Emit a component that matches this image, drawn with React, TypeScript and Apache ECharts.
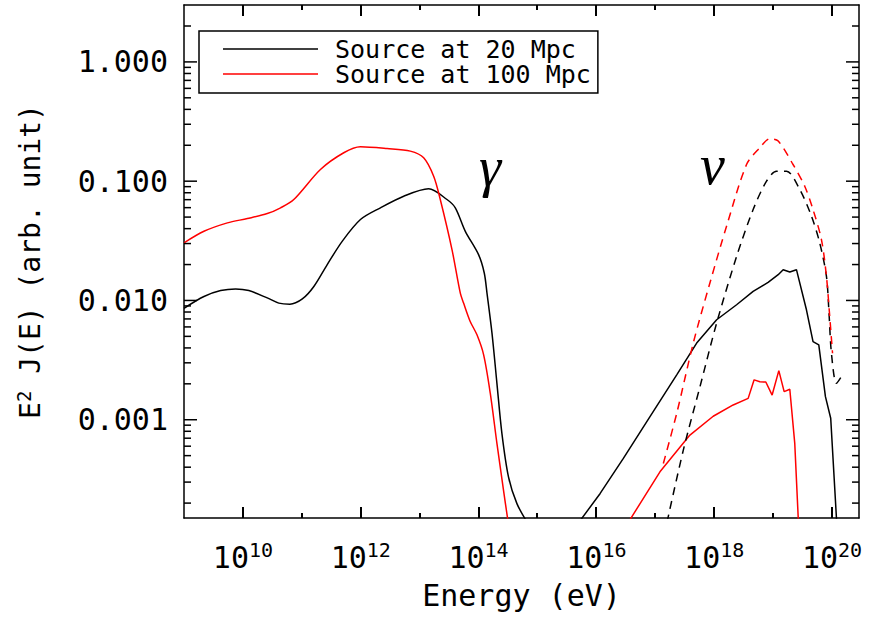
import { useEffect, useRef } from 'react';
import * as echarts from 'echarts';

// ---- data (energy in eV, E^2 J(E) in arbitrary units) ----
const gamma20E = [1.0e9, 2.18e9, 4.19e9, 7.52e9, 1.26e10, 2.59e10, 4.07e10, 6.27e10, 1.02e11, 1.6e11, 2.7e11, 4.84e11, 9.89e11, 2.16e12, 5.36e12, 1.42e13, 2.91e13, 4.03e13, 5.96e13, 1.0e14, 1.25e14, 1.39e14, 1.69e14, 2.05e14, 2.49e14, 3.22e14, 4.48e14, 6.68e14];
const gamma20V = [0.0086, 0.0108, 0.0121, 0.0125, 0.0121, 0.0105, 0.0095, 0.0093, 0.0103, 0.0131, 0.02, 0.0313, 0.0477, 0.0598, 0.0748, 0.0863, 0.0702, 0.0598, 0.038, 0.0242, 0.017, 0.01153, 0.00532, 0.00202, 0.000769, 0.000332, 0.000198, 0.000138];

const gamma100E = [1.0e9, 2.18e9, 5.45e9, 1.19e10, 2.59e10, 4.36e10, 7.31e10, 2.07e11, 5.15e11, 9.89e11, 2.8e12, 6.95e12, 1.17e13, 1.73e13, 2.24e13, 3.54e13, 4.9e13, 5.57e13, 7.18e13, 9.4e13, 1.22e14, 1.58e14, 2.05e14, 2.65e14, 3.18e14];
const gamma100V = [0.0304, 0.038, 0.0447, 0.0486, 0.0535, 0.0598, 0.0702, 0.1254, 0.1732, 0.1946, 0.188, 0.1787, 0.157, 0.11, 0.0702, 0.0267, 0.0115, 0.0095, 0.0067, 0.00515, 0.0035, 0.00167, 0.000634, 0.000257, 0.000138];

const nu20E = [5.05e15, 1.16e16, 2.87e16, 8.13e16, 2.31e17, 5.04e17, 1.1e18, 2.4e18, 4.58e18, 8.22e18, 1.22e19, 1.48e19, 1.92e19, 2.49e19, 3.68e19, 4.76e19, 5.96e19, 7.73e19, 9.5e19, 1.2e20];
const nu20V = [0.000138, 0.000241, 0.000474, 0.00106, 0.00238, 0.00439, 0.00689, 0.0092, 0.01191, 0.01417, 0.01644, 0.01811, 0.01733, 0.01811, 0.00835, 0.00452, 0.00424, 0.00156, 0.00103, 0.000138];

const nu100E = [3.49e16, 1.2e17, 3.87e17, 9.62e17, 2.1e18, 3.77e18, 4.76e18, 5.96e18, 7.52e18, 9.62e18, 1.25e19, 1.54e19, 1.92e19, 2.33e19, 2.69e19];
const nu100V = [0.000138, 0.000366, 0.000744, 0.00107, 0.00133, 0.00151, 0.00216, 0.00208, 0.00207, 0.00161, 0.00258, 0.00172, 0.0018, 0.000634, 0.000138];

const nuDash20E = [1.58e17, 2.99e17, 5.73e17, 1.1e18, 2.4e18, 4.58e18, 7.73e18, 1.14e19, 1.69e19, 2.84e19, 4.48e19, 6.19e19, 8.04e19, 8.89e19, 9.77e19, 1.19e20, 1.44e20];
const nuDash20V = [0.000138, 0.000556, 0.00189, 0.00646, 0.0234, 0.0578, 0.1, 0.1213, 0.1213, 0.0851, 0.0508, 0.0303, 0.0159, 0.00783, 0.00361, 0.00202, 0.0023];

const nuDash100E = [1.37e17, 2.31e17, 4.41e17, 8.45e17, 1.62e18, 3.54e18, 5.96e18, 8.79e18, 1.22e19, 2.18e19, 3.44e19, 4.76e19, 6.61e19, 8.04e19, 9.14e19, 1.02e20];
const nuDash100V = [0.00043, 0.00113, 0.00439, 0.014, 0.0419, 0.138, 0.191, 0.227, 0.217, 0.138, 0.0908, 0.0578, 0.0324, 0.0159, 0.00734, 0.00361];

// ---- axes ----
const xMin = 1e9;
const xMax = 2.87e20;
const yMin = 1.5e-4;
const yMax = 3;
const xMajorTicks = [1e10, 1e12, 1e14, 1e16, 1e18, 1e20];
const xMinorTicks = [1e11, 1e13, 1e15, 1e17, 1e19];
const yMajorTicks = [0.001, 0.01, 0.1, 1];
const yMinorTicks = [
  0.0002, 0.0003, 0.0004, 0.0005, 0.0006, 0.0007, 0.0008, 0.0009,
  0.002, 0.003, 0.004, 0.005, 0.006, 0.007, 0.008, 0.009,
  0.02, 0.03, 0.04, 0.05, 0.06, 0.07, 0.08, 0.09,
  0.2, 0.3, 0.4, 0.5, 0.6, 0.7, 0.8, 0.9,
  2,
];
const legendNames = ['Source at 20 Mpc', 'Source at 100 Mpc'];

const pair = (xs: number[], ys: number[]) => xs.map((x, i) => [x, ys[i]]);

const MONO = 'DejaVu Sans Mono';
const TICK_W = 1.5;
const X_TICK_W = 2;
const X_MAJOR_LEN = 11;
const X_MINOR_LEN = 5;

// Frame ticks on all four sides of the plot.
function tickSeries(name: string, values: number[], len: number, withXTicks: boolean) {
  return {
    type: 'custom',
    name,
    silent: true,
    clip: false,
    z: 10,
    xAxisIndex: 0,
    yAxisIndex: 0,
    data: values.map((v) => [1e10, v]),
    renderItem: (params: any, api: any) => {
      const cs = params.coordSys;
      const p = api.coord([api.value(0), api.value(1)]);
      const py = p[1];
      const xr = cs.x + cs.width;
      const yb = cs.y + cs.height;
      const fill = { fill: '#000' };
      const children: any[] = [
        { type: 'rect', shape: { x: cs.x, y: py - TICK_W / 2, width: len, height: TICK_W }, style: fill },
        { type: 'rect', shape: { x: xr - len, y: py - TICK_W / 2, width: len, height: TICK_W }, style: fill },
      ];
      if (withXTicks && params.dataIndex === 0) {
        const a = Math.log10(xMin);
        const b = Math.log10(xMax);
        const xPix = (v: number) => {
          const q = api.coord([v, 1]);
          const qx = q ? Number(q[0]) : NaN;
          if (isFinite(qx) && qx >= cs.x - 1 && qx <= xr + 1) return qx;
          return cs.x + (cs.width * (Math.log10(v) - a)) / (b - a);
        };
        const addX = (v: number, l: number) => {
          const x = Math.round(xPix(v)) - X_TICK_W / 2;
          children.push({ type: 'rect', shape: { x, y: yb - l, width: X_TICK_W, height: l }, style: fill });
          children.push({ type: 'rect', shape: { x, y: cs.y, width: X_TICK_W, height: l }, style: fill });
        };
        xMajorTicks.forEach((v) => addX(v, X_MAJOR_LEN));
        xMinorTicks.forEach((v) => addX(v, X_MINOR_LEN));
      }
      return { type: 'group', children };
    },
  };
}

function buildOption() {
  const isPow10 = (v: number) => {
    const l = Math.log10(v);
    return Math.abs(l - Math.round(l)) < 1e-6;
  };
  const frame = () => ({ show: true, onZero: false, lineStyle: { color: '#000', width: 1.5 } });
  const lineBase = { type: 'line', showSymbol: false, symbol: 'none', clip: true, z: 3 };
  const black = '#000000';
  const red = '#ff0000';
  const plainAxis = (min: number, max: number, position: string) => ({
    type: 'log',
    min,
    max,
    position,
    axisLine: frame(),
    axisTick: { show: false },
    axisLabel: { show: false },
    splitLine: { show: false },
  });
  return {
    animation: false,
    backgroundColor: '#ffffff',
    grid: { left: 184, right: 10, top: 5, bottom: 102, containLabel: false },
    legend: {
      data: legendNames,
      orient: 'vertical',
      left: 199,
      top: 31,
      padding: [5.5, 7, 6.5, 24],
      itemGap: 0,
      icon: 'rect',
      itemWidth: 95,
      itemHeight: 1.5,
      borderColor: '#000',
      borderWidth: 1.5,
      borderRadius: 0,
      backgroundColor: '#fff',
      selectedMode: false,
      textStyle: { fontFamily: MONO, fontSize: 25, lineHeight: 25, color: '#000', padding: [0, 0, 0, 12] },
    },
    xAxis: [
      {
        type: 'log',
        min: xMin,
        max: xMax,
        position: 'bottom',
        axisLine: frame(),
        axisTick: { show: false },
        splitLine: { show: false },
        axisLabel: {
          margin: 22,
          customValues: xMajorTicks,
          formatter: (v: number) => {
            if (!isPow10(v)) return '';
            const e = Math.round(Math.log10(v));
            return `{b|10}{s|${e}}`;
          },
          rich: {
            b: { fontFamily: MONO, fontSize: 30, lineHeight: 34, color: '#000' },
            s: { fontFamily: MONO, fontSize: 20, lineHeight: 20, verticalAlign: 'top', color: '#000' },
          },
        },
        name: 'Energy (eV)',
        nameLocation: 'middle',
        nameGap: 62,
        nameTextStyle: { fontFamily: MONO, fontSize: 30, color: '#000' },
      },
      plainAxis(xMin, xMax, 'top'),
    ],
    yAxis: [
      {
        type: 'log',
        min: yMin,
        max: yMax,
        position: 'left',
        axisLine: frame(),
        axisTick: { show: false },
        splitLine: { show: false },
        axisLabel: {
          margin: 16,
          customValues: yMajorTicks,
          fontFamily: MONO,
          fontSize: 30,
          color: '#000',
          formatter: (v: number) => (isPow10(v) ? v.toFixed(3) : ''),
        },
        name: '{n|E}{s|2}{n| J(E) (arb. unit)}',
        nameLocation: 'middle',
        nameGap: 138,
        nameRotate: 90,
        nameTextStyle: {
          color: '#000',
          rich: {
            n: { fontFamily: MONO, fontSize: 28, lineHeight: 32, color: '#000' },
            s: { fontFamily: MONO, fontSize: 19, lineHeight: 19, verticalAlign: 'top', color: '#000' },
          },
        },
      },
      plainAxis(yMin, yMax, 'right'),
    ],
    graphic: [
      {
        type: 'text',
        left: 479,
        top: 139,
        silent: true,
        style: { text: 'γ', font: 'italic 56px "Liberation Serif"', fill: '#000' },
      },
      {
        type: 'text',
        left: 700,
        top: 137,
        silent: true,
        style: { text: 'ν', font: 'italic 56px "Liberation Serif"', fill: '#000' },
      },
    ],
    series: [
      { ...lineBase, name: legendNames[0], data: pair(gamma20E, gamma20V), smooth: 0.3, lineStyle: { color: black, width: 1.5 }, itemStyle: { color: black } },
      { ...lineBase, name: legendNames[1], data: pair(gamma100E, gamma100V), smooth: 0.3, lineStyle: { color: red, width: 1.5 }, itemStyle: { color: red } },
      { ...lineBase, name: 'nu 20 Mpc', data: pair(nu20E, nu20V), lineStyle: { color: black, width: 1.5 }, itemStyle: { color: black } },
      { ...lineBase, name: 'nu 100 Mpc', data: pair(nu100E, nu100V), lineStyle: { color: red, width: 1.5 }, itemStyle: { color: red } },
      { ...lineBase, name: 'nu dashed 20 Mpc', data: pair(nuDash20E, nuDash20V), smooth: 0.3, lineStyle: { color: black, width: 1.5, type: [8, 6] }, itemStyle: { color: black } },
      { ...lineBase, name: 'nu dashed 100 Mpc', data: pair(nuDash100E, nuDash100V), smooth: 0.3, lineStyle: { color: red, width: 1.5, type: [8, 6] }, itemStyle: { color: red } },
      tickSeries('yMajorTicks', yMajorTicks, 13, true),
      tickSeries('yMinorTicks', yMinorTicks, 7, false),
    ],
  };
}

export default function App() {
  const ref = useRef<HTMLDivElement>(null);
  useEffect(() => {
    document.body.style.margin = '0';
    const chart = echarts.init(ref.current as HTMLDivElement, null, { renderer: 'svg' });
    chart.setOption(buildOption() as any);
    return () => chart.dispose();
  }, []);
  return <div ref={ref} style={{ width: 869, height: 620 }} />;
}
